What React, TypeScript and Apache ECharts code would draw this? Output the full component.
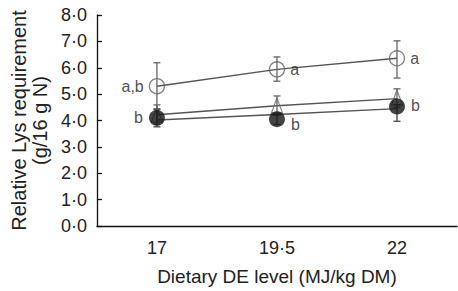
import React, { useEffect, useRef } from "react";
import * as echarts from "echarts";

const categories = ["17", "19·5", "22"];
const yTickLabels = ["0·0", "1·0", "2·0", "3·0", "4·0", "5·0", "6·0", "7·0", "8·0"];

// open circles
const openPoints = [5.3, 5.94, 6.36];
const openLine = [5.3, 5.94, 6.36];
const openErrLow = [4.42, 5.49, 5.61];
const openErrHigh = [6.19, 6.41, 7.02];
const openLabels = ["a,b", "a", "a"];

// open triangles
const triPoints = [4.22, 4.57, 4.87];
const triLine = [4.22, 4.56, 4.83];
const triErrLow = [3.85, 4.2, 4.5];
const triErrHigh = [4.59, 4.93, 5.2];

// filled circles
const filledPoints = [4.1, 4.05, 4.53];
const filledLine = [4.02, 4.23, 4.45];
const filledErrLow = [3.76, 3.85, 3.97];
const filledErrHigh = [4.44, 4.25, 4.6];
const filledLabels = ["b", "b", "b"];

const openLabelPos: any[] = ["left", "right", "right"];
const filledLabelPos: any[] = ["left", "right", "right"];
const filledLabelOffset: any[] = [[0, 0], [0, 5], [0, -1]];

const FONT = "'Liberation Sans', Arial, Helvetica, sans-serif";

function errSeries(low: number[], high: number[], color: string) {
  return {
    type: "custom",
    z: 3,
    silent: true,
    data: low.map((l, i) => [i, l, high[i]]),
    renderItem: (params: any, api: any) => {
      const x = api.value(0);
      const lo = api.coord([x, api.value(1)]);
      const hi = api.coord([x, api.value(2)]);
      const w = 3.5;
      const style = { stroke: color, lineWidth: 1.3 };
      return {
        type: "group",
        children: [
          { type: "line", shape: { x1: lo[0], y1: lo[1], x2: hi[0], y2: hi[1] }, style },
          { type: "line", shape: { x1: lo[0] - w, y1: lo[1], x2: lo[0] + w, y2: lo[1] }, style },
          { type: "line", shape: { x1: hi[0] - w, y1: hi[1], x2: hi[0] + w, y2: hi[1] }, style },
        ],
      };
    },
  };
}

function lineSeries(vals: number[], color: string) {
  return {
    type: "line",
    z: 2,
    symbol: "none",
    silent: true,
    data: vals.map((v, i) => [i, v]),
    lineStyle: { color, width: 1.4 },
  };
}

export default function App() {
  const ref = useRef<HTMLDivElement>(null);
  useEffect(() => {
    if (!ref.current) return;
    const chart = echarts.init(ref.current, undefined, { renderer: "svg" });
    chart.setOption({
      animation: false,
      textStyle: { fontFamily: FONT },
      grid: { left: 96, right: 1, top: 15, bottom: 59 },
      xAxis: {
        type: "category",
        data: categories,
        boundaryGap: true,
        axisLine: { lineStyle: { color: "#111", width: 1.3 } },
        axisTick: { inside: true, length: 6, alignWithLabel: false, lineStyle: { color: "#111", width: 1.3 } },
        axisLabel: { color: "#222", fontSize: 18, margin: 13, fontFamily: FONT },
        name: "Dietary DE level (MJ/kg DM)",
        nameLocation: "middle",
        nameGap: 41,
        nameTextStyle: { color: "#222", fontSize: 19, fontFamily: FONT },
      },
      yAxis: {
        type: "value",
        min: 0,
        max: 8,
        interval: 1,
        axisLine: { show: true, lineStyle: { color: "#111", width: 1.3 } },
        axisTick: { show: true, inside: true, length: 5, lineStyle: { color: "#111", width: 1.3 } },
        splitLine: { show: false },
        axisLabel: {
          color: "#222",
          fontSize: 18,
          margin: 10,
          fontFamily: FONT,
          formatter: (v: number) => yTickLabels[Math.round(v)],
        },
        name: "Relative Lys requirement\n(g/16 g N)",
        nameLocation: "middle",
        nameGap: 46,
        nameRotate: 90,
        nameTextStyle: { color: "#222", fontSize: 20, lineHeight: 21, fontFamily: FONT },
      },
      series: [
        lineSeries(openLine, "#555"),
        lineSeries(triLine, "#555"),
        lineSeries(filledLine, "#555"),
        errSeries(openErrLow, openErrHigh, "#666"),
        errSeries(triErrLow, triErrHigh, "#666"),
        errSeries(filledErrLow, filledErrHigh, "#444"),
        {
          type: "scatter",
          z: 4,
          symbol: "triangle",
          symbolSize: [11, 15],
          itemStyle: { color: "rgba(255,255,255,0)", borderColor: "#666", borderWidth: 1.3 },
          data: triPoints.map((v, i) => [i, v]),
        },
        {
          type: "scatter",
          z: 5,
          symbol: "circle",
          symbolSize: 15,
          itemStyle: { color: "rgba(255,255,255,0)", borderColor: "#666", borderWidth: 1.4 },
          data: openPoints.map((v, i) => ({
            value: [i, v],
            label: {
              show: true,
              formatter: openLabels[i],
              position: openLabelPos[i],
              distance: 5,
              color: "#222",
              fontSize: 16,
              fontFamily: FONT,
            },
          })),
        },
        {
          type: "scatter",
          z: 6,
          symbol: "circle",
          symbolSize: 16,
          itemStyle: { color: "#151515", borderColor: "#151515", borderWidth: 0 },
          data: filledPoints.map((v, i) => ({
            value: [i, v],
            label: {
              show: true,
              formatter: filledLabels[i],
              position: filledLabelPos[i],
              offset: filledLabelOffset[i],
              distance: 6,
              color: "#222",
              fontSize: 16,
              fontFamily: FONT,
            },
          })),
        },
      ],
    });
    return () => chart.dispose();
  }, []);
  return (
    <div
      ref={ref}
      style={{ position: "fixed", left: 0, top: 0, width: 458, height: 291, background: "#fff" }}
    />
  );
}
